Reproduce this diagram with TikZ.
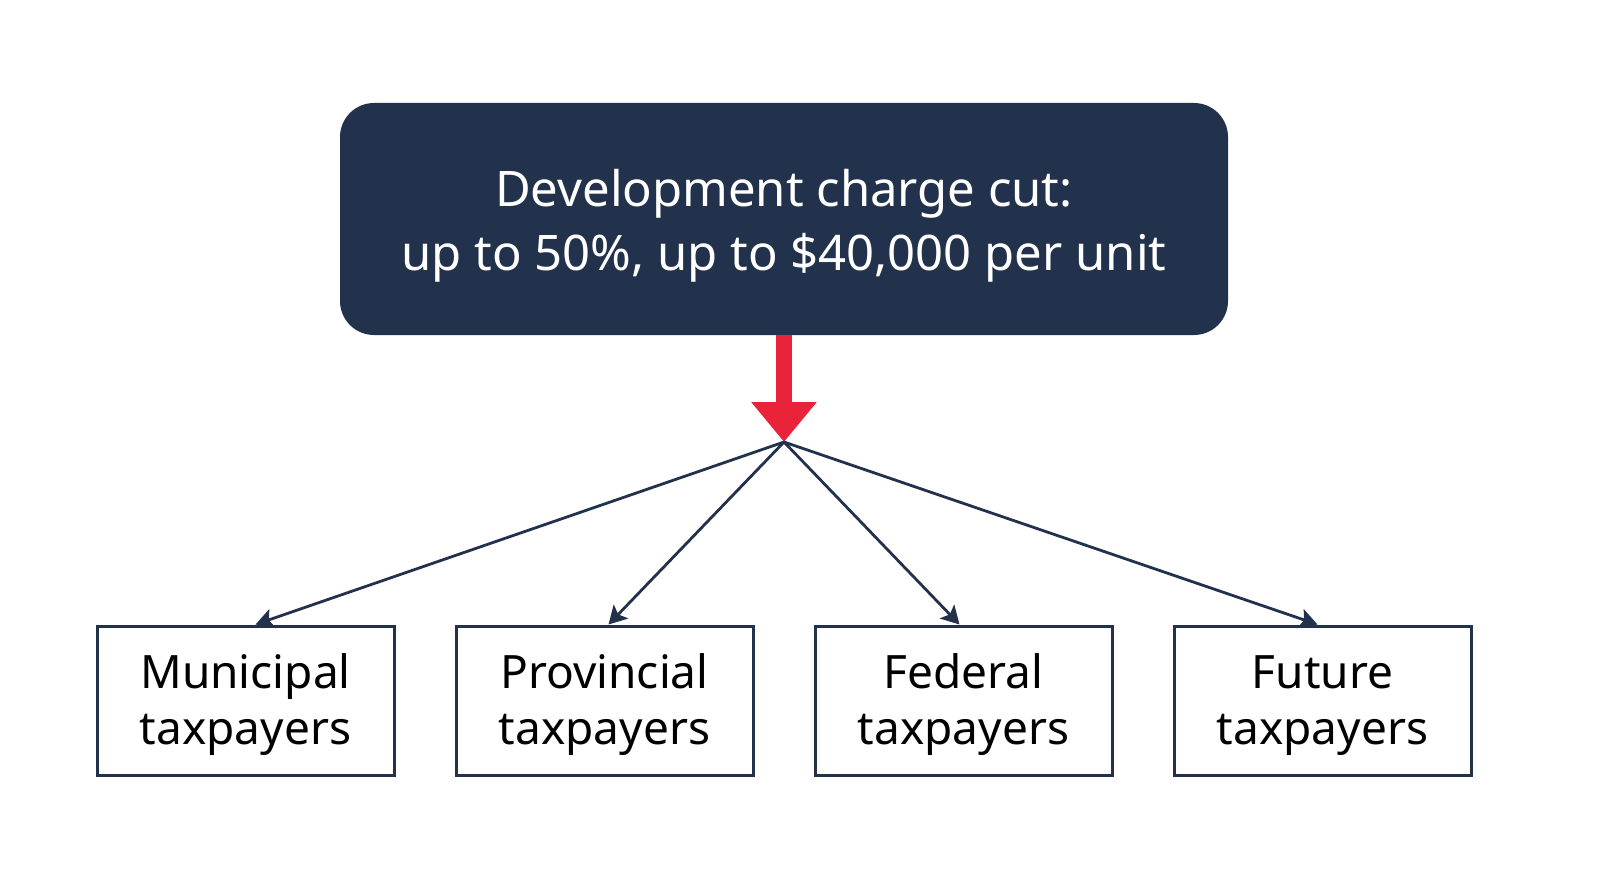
\documentclass[tikz,border=0pt]{standalone}
\usepackage{fontspec}
\setmainfont{Noto Sans}
\usepackage{tikz}
\usetikzlibrary{arrows.meta}
\usetikzlibrary{positioning}
\definecolor{navy}{HTML}{23324C}
\definecolor{cutred}{HTML}{E8233A}
\newcommand{\twolines}[3]{\raisebox{#1}[\height][\depth]{\begin{tabular}{@{}c@{}}#2\\#3\end{tabular}}}
\tikzset{
  payer/.style={draw=navy, line width=1.5pt, minimum width=148.5pt, minimum height=74.5pt,
    align=center, font=\fontsize{23}{28}\selectfont},
  share/.style={draw=navy, line width=1.4pt, -{Stealth[length=9pt,width=10pt,inset=2pt]}}
}
\begin{document}
\begin{tikzpicture}
        [x=0.5pt, y=-0.5pt, node distance=179.5pt]
        \useasboundingbox (0,0) rectangle (1600,893);
        \node [fill=navy, rounded corners=17pt, minimum width=444pt, minimum height=116pt,
          text=white, font=\fontsize{24.5}{32}\selectfont] (cut) at (784,219)
          {\twolines{-3.5pt}{Development charge cut:}{up to 50\%, up to \$40,000 per unit}};
        \coordinate (split) at (784,442);

        \node [payer] (muni) at (245.5,700.5) {\twolines{-2.5pt}{Municipal}{taxpayers}};
        \node [payer, right of=muni] (prov) {\twolines{-2.5pt}{Provincial}{taxpayers}};
        \node [payer, right of=prov] (fed) {\twolines{-2.5pt}{Federal}{taxpayers}};
        \node [payer, right of=fed] (future) {\twolines{-2.5pt}{Future}{taxpayers}};

        \draw [cutred, line width=8pt, -{Triangle[width=31.5pt,length=20pt]}] (cut.south) -- (split);

        \draw [share] (split) -- ([xshift=5pt]muni.north);
        \draw [share] (split) -- ([xshift=2pt]prov.north);
        \draw [share] (split) -- ([xshift=-2pt]fed.north);
        \draw [share] (split) -- ([xshift=-2.5pt]future.north);
    \end{tikzpicture}
\end{document}
